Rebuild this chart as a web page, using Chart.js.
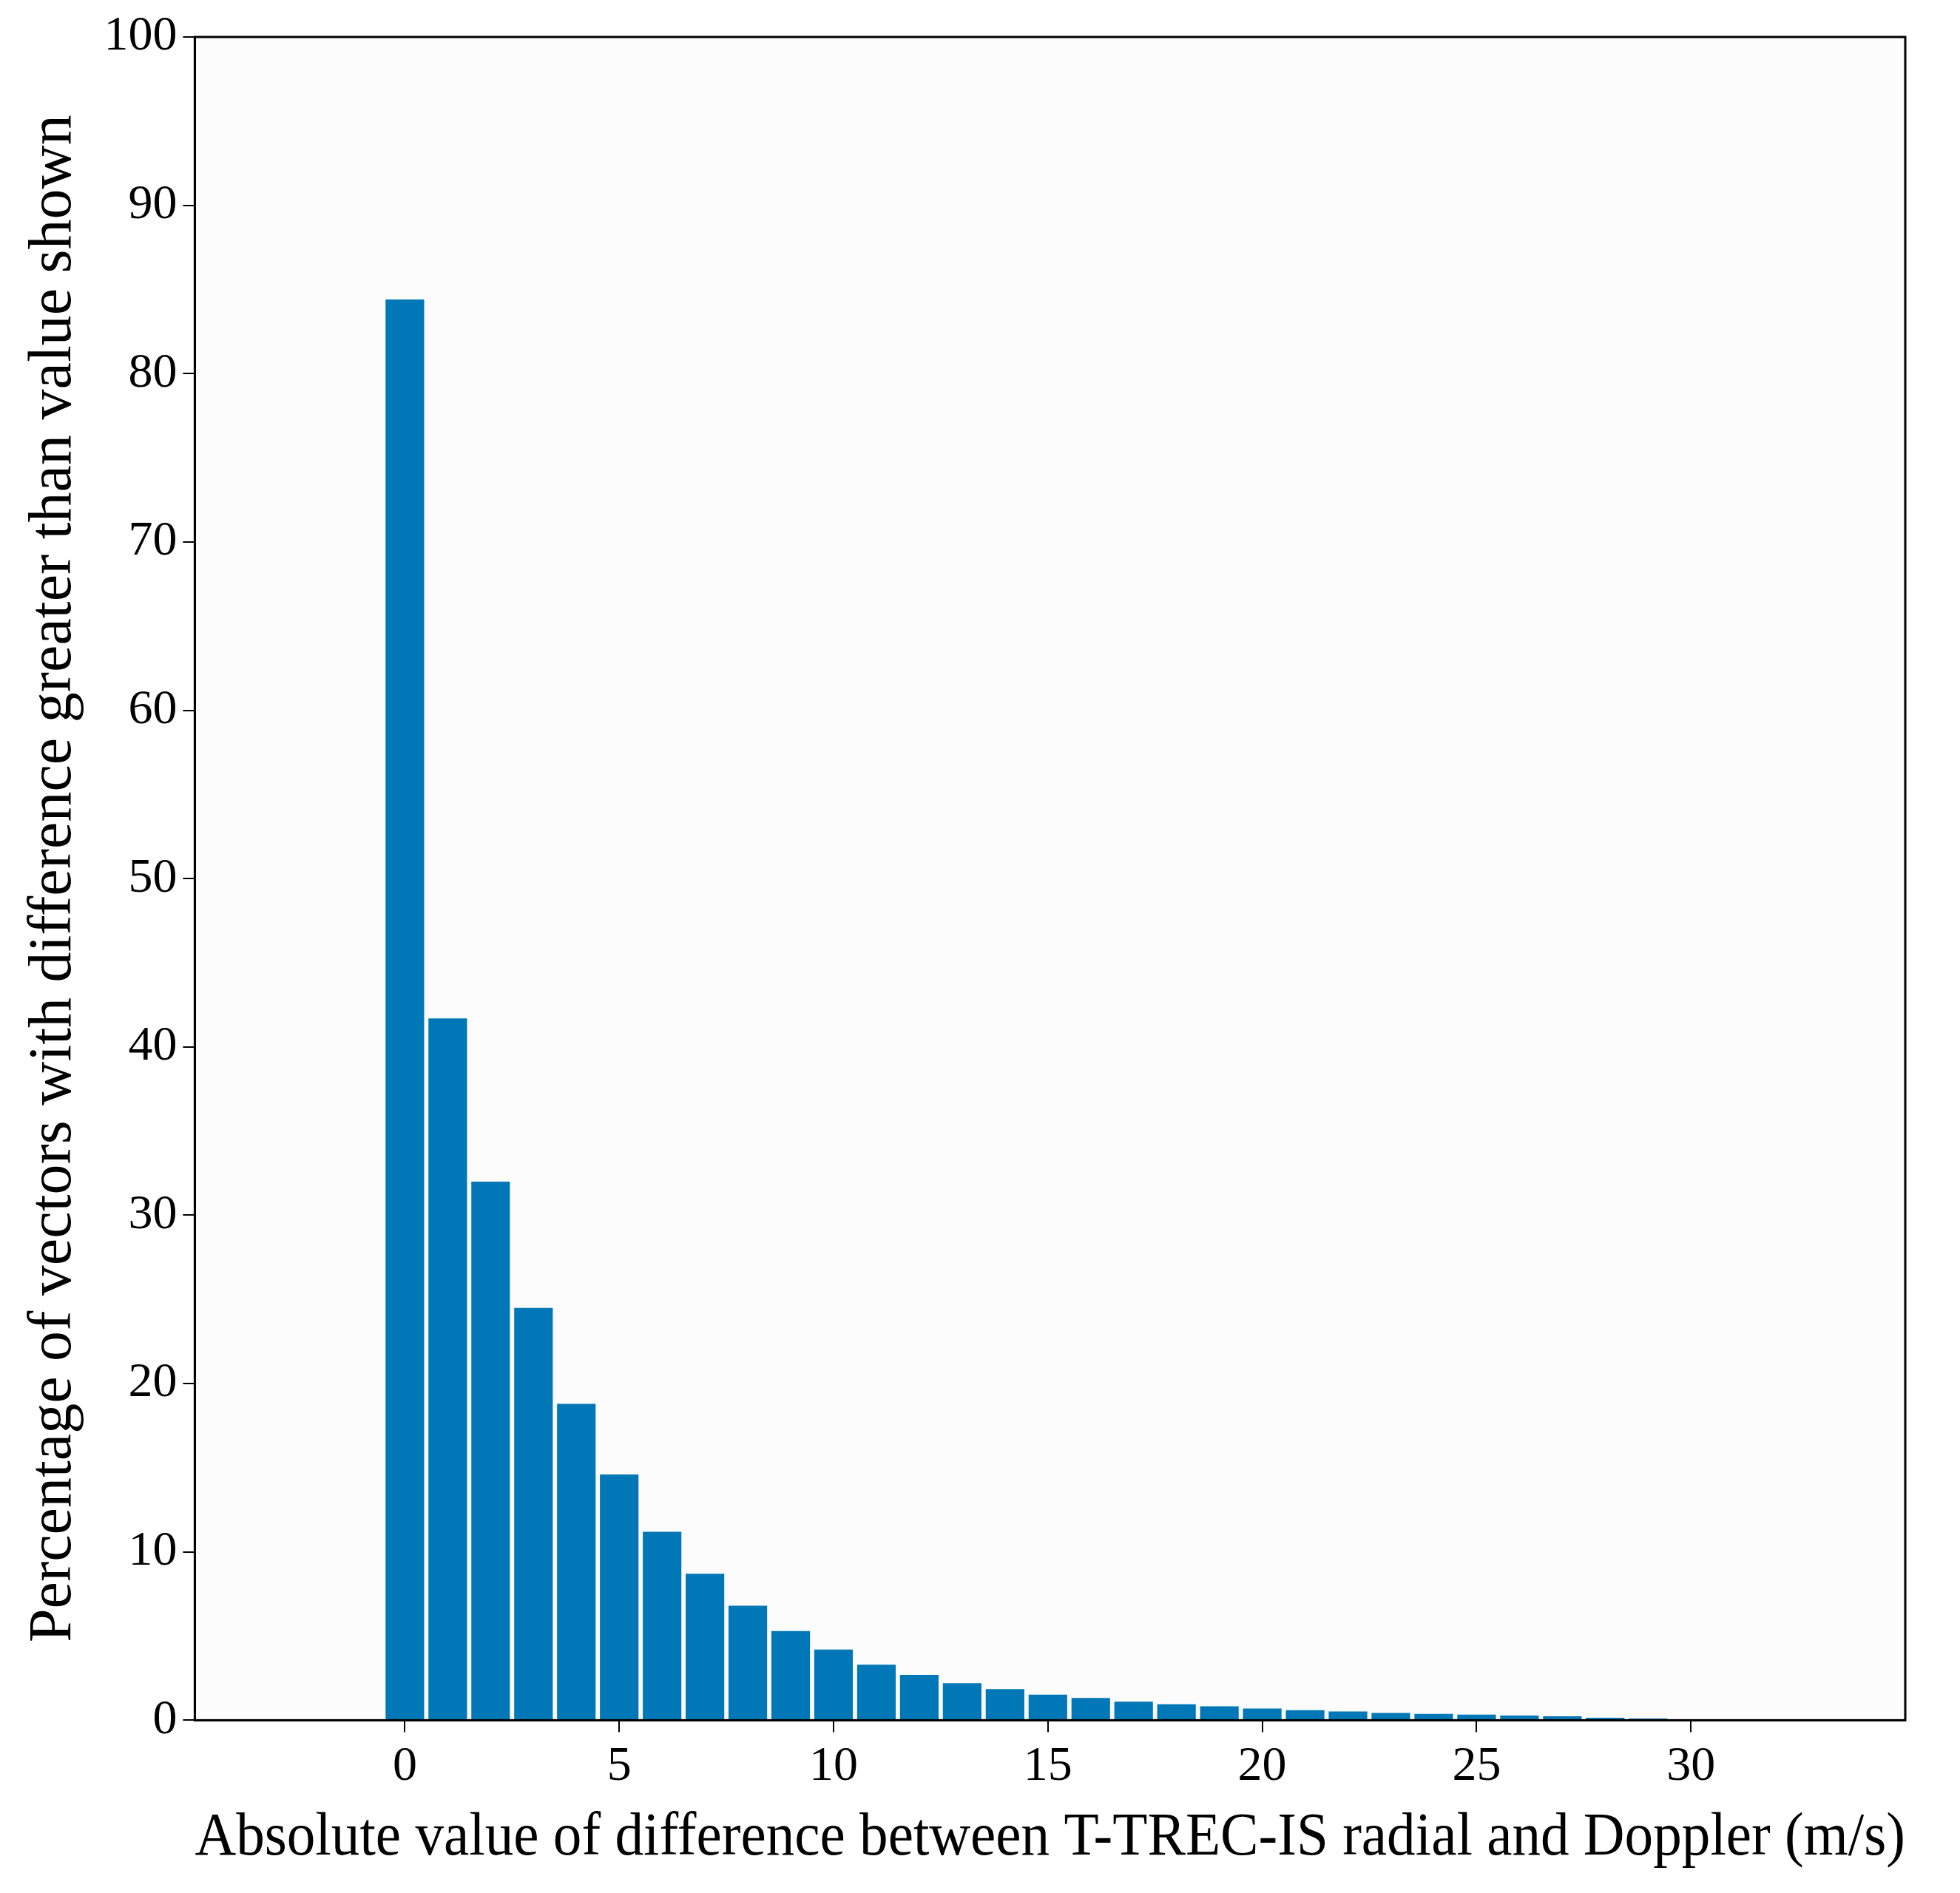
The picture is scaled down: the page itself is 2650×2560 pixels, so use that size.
<!DOCTYPE html>
<html><head><meta charset="utf-8">
<script src="https://cdn.jsdelivr.net/npm/chart.js@4"></script>
<style>html,body{margin:0;background:#fff}#w{width:2650px;height:2560px}</style>
</head><body><div id="w"><canvas id="c"></canvas></div>
<script>
const diffs = [0,1,2,3,4,5,6,7,8,9,10,11,12,13,14,15,16,17,18,19,20,21,22,23,24,25,26,27,28,29,30];
const percents = [84.4,41.7,32.0,24.5,18.8,14.6,11.2,8.7,6.8,5.3,4.2,3.3,2.7,2.2,1.85,1.52,1.32,1.1,0.95,0.83,0.7,0.6,0.52,0.44,0.38,0.34,0.28,0.24,0.15,0.1,0.06];
const xTicks = [0,5,10,15,20,25,30];
const yTicks = [0,10,20,30,40,50,60,70,80,90,100];
const xTitle = 'Absolute value of difference between T-TREC-IS radial and Doppler (m/s)';
const yTitle = 'Percentage of vectors with difference greater than value shown';

const frame = {id:'frame',
  beforeDraw(ch){const a=ch.chartArea,x=ch.ctx;x.save();x.fillStyle='#fcfcfc';x.fillRect(a.left,a.top,a.right-a.left,a.bottom-a.top);x.restore();},
  afterDraw(ch){const a=ch.chartArea,x=ch.ctx;x.save();x.strokeStyle='#000';x.lineWidth=3;x.strokeRect(a.left,a.top,a.right-a.left,a.bottom-a.top);x.restore();}};
const font = {family:'Liberation Serif', size:66};
const tfont = {family:'Liberation Serif', size:82};
new Chart(document.getElementById('c'),{
  type:'bar',
  data:{datasets:[{data:diffs.map((d,i)=>({x:d,y:percents[i]})),backgroundColor:'#0077b6',barPercentage:0.9,categoryPercentage:1}]},
  options:{responsive:true,maintainAspectRatio:false,animation:false,
    layout:{padding:{top:50,right:74,left:20,bottom:20}},
    plugins:{legend:{display:false},tooltip:{enabled:false}},
    scales:{
      x:{type:'linear',min:-2.05,max:32.15,afterBuildTicks(s){s.ticks=xTicks.map(v=>({value:v}));},
        grid:{offset:false,drawOnChartArea:false,drawTicks:true,tickLength:16,color:'#000',lineWidth:2},
        border:{color:'#000',width:3},
        ticks:{font,color:'#000',padding:8,maxRotation:0},
        title:{display:true,text:xTitle,font:tfont,color:'#000',padding:{top:0}}},
      y:{min:0,max:100,afterBuildTicks(s){s.ticks=yTicks.map(v=>({value:v}));},
        grid:{offset:false,drawOnChartArea:false,drawTicks:true,tickLength:16,color:'#000',lineWidth:2},
        border:{color:'#000',width:3},
        ticks:{font,color:'#000',padding:8},
        title:{display:true,text:yTitle,font:tfont,color:'#000',padding:{bottom:10}}}
    }},
  plugins:[frame]
});
</script></body></html>
